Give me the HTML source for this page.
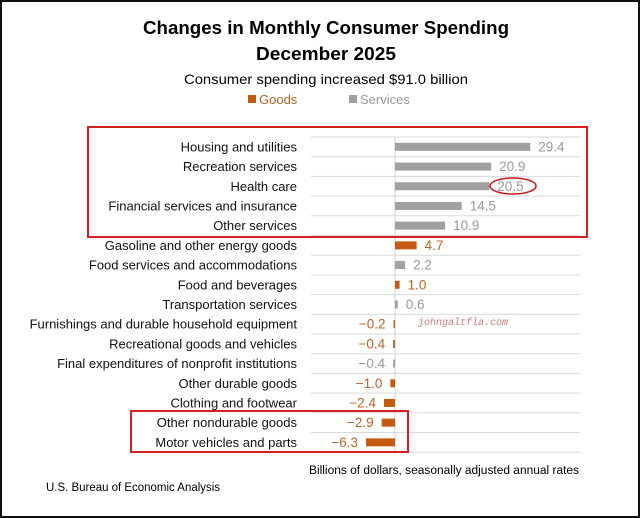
<!DOCTYPE html>
<html><head><meta charset="utf-8"><style>
html,body{margin:0;padding:0;background:#fff}
svg{display:block;font-family:"Liberation Sans",sans-serif}
</style></head><body>
<svg id="chart" width="640" height="518" viewBox="0 0 640 518">
<rect x="1" y="1" width="638" height="516" fill="#fff" stroke="#111" stroke-width="2"/>
<text x="326" y="34" text-anchor="middle" font-size="18" font-weight="bold" textLength="366" lengthAdjust="spacingAndGlyphs">Changes in Monthly Consumer Spending</text>
<text x="326" y="60" text-anchor="middle" font-size="18" font-weight="bold" textLength="140" lengthAdjust="spacingAndGlyphs">December 2025</text>
<text x="326" y="84" text-anchor="middle" font-size="14" textLength="284" lengthAdjust="spacingAndGlyphs">Consumer spending increased $91.0 billion</text>
<g>
<rect x="248" y="95" width="8" height="8" fill="#c55a11"/>
<text x="259" y="104" font-size="13" fill="#b8652a">Goods</text>
<rect x="349" y="95" width="8" height="8" fill="#a0a0a0"/>
<text x="360" y="104" font-size="13" fill="#999">Services</text>
</g>
<g id="plot"></g>
<text x="444" y="474" text-anchor="middle" font-size="11.5" textLength="270" lengthAdjust="spacingAndGlyphs">Billions of dollars, seasonally adjusted annual rates</text>
<text x="46" y="491" font-size="11.5" textLength="174" lengthAdjust="spacingAndGlyphs">U.S. Bureau of Economic Analysis</text>
<text x="418" y="325" font-size="10" font-family="Liberation Mono,monospace" font-style="italic" fill="#c77">johngaltfla.com</text>
<rect x="88" y="127" width="499" height="110" fill="none" stroke="#d42020" stroke-width="2"/>
<rect x="131" y="411" width="277" height="41" fill="none" stroke="#d42020" stroke-width="2"/>
<ellipse cx="513" cy="186" rx="23" ry="8" fill="none" stroke="#c81818" stroke-width="1.5"/>
</svg>
<script>
const categories = ["Housing and utilities","Recreation services","Health care","Financial services and insurance","Other services","Gasoline and other energy goods","Food services and accommodations","Food and beverages","Transportation services","Furnishings and durable household equipment","Recreational goods and vehicles","Final expenditures of nonprofit institutions","Other durable goods","Clothing and footwear","Other nondurable goods","Motor vehicles and parts"];
const values = [29.4,20.9,20.5,14.5,10.9,4.7,2.2,1.0,0.6,-0.2,-0.4,-0.4,-1.0,-2.4,-2.9,-6.3];
const types = ["services","services","services","services","services","goods","services","goods","services","goods","goods","services","goods","goods","goods","goods"];
const valueLabels = ["29.4","20.9","20.5","14.5","10.9","4.7","2.2","1.0","0.6","\u22120.2","\u22120.4","\u22120.4","\u22121.0","\u22122.4","\u22122.9","\u22126.3"];

const NS="http://www.w3.org/2000/svg";
const plot=document.getElementById('plot');
const x0=395, pxPer=4.6, plotTop=137, step=19.7, gridL=311, gridR=580;
const xScale=v=>x0+v*pxPer;
const yScale=i=>plotTop+i*step;
function mk(tag,attrs){const e=document.createElementNS(NS,tag);for(const k in attrs)e.setAttribute(k,attrs[k]);plot.appendChild(e);return e;}
for(let i=0;i<=categories.length;i++){
  const g=mk('line',{x1:gridL,x2:gridR,y1:yScale(i),y2:yScale(i),stroke:'#d9d9d9','stroke-width':1});
  
  
}
const ax=mk('line',{x1:x0,x2:x0,y1:yScale(0),y2:yScale(categories.length),stroke:'#d0d0d0','stroke-width':1});


categories.forEach((c,i)=>{
  const cy=yScale(i)+step/2;
  const lab=mk('text',{x:297,y:cy+4.5,'text-anchor':'end','font-size':13,fill:'#111'});
  lab.textContent=c;
  
  
  const v=values[i], w=Math.max(Math.abs(v)*pxPer,1.5);
  const col=types[i]==='goods'?'#c55a11':'#a0a0a0';
  const b=mk('rect',{x:v<0?x0-w:x0,y:cy-4,width:w,height:8,fill:col});
  
  
  const tcol=types[i]==='goods'?'#b8652a':'#999';
  const t=mk('text',{x:v<0?x0-w-8:x0+w+8,y:cy+4.5,'text-anchor':v<0?'end':'start','font-size':13.5,fill:tcol});
  t.textContent=valueLabels[i];
  
  
});
</script>
</body></html>
